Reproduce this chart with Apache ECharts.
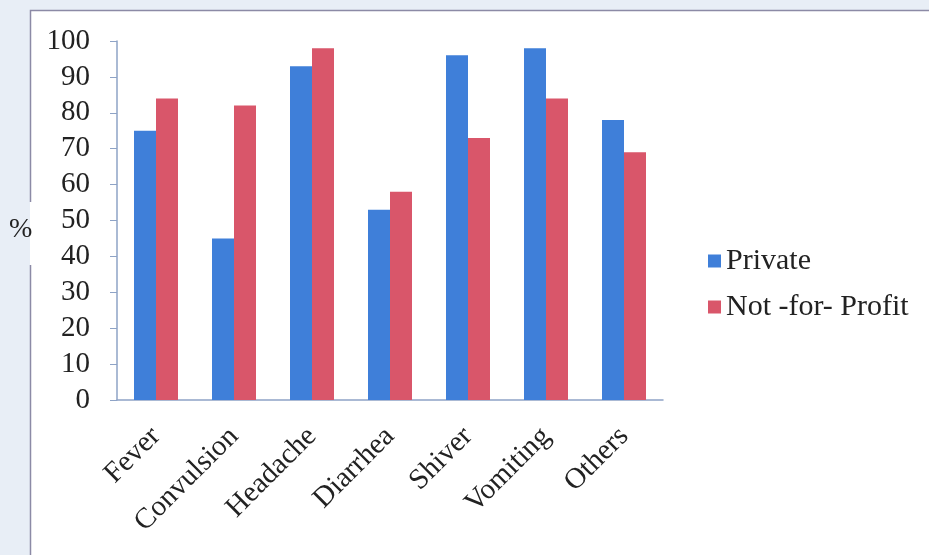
<!DOCTYPE html>
<html>
<head>
<meta charset="utf-8">
<script src="https://cdn.jsdelivr.net/npm/echarts@6/dist/echarts.min.js"></script>
<style>
html,body{margin:0;padding:0;background:#e8eef6;}
#c{width:929px;height:555px;}
</style>
</head>
<body>
<div id="c"></div>
<script>
const categories = ['Fever','Convulsion','Headache','Diarrhea','Shiver','Vomiting','Others'];
const privateValues = [75, 45, 93, 53, 96, 98, 78];
const notForProfitValues = [84, 82, 98, 58, 73, 84, 69];
const yTicks = [0,10,20,30,40,50,60,70,80,90,100];

const chart = echarts.init(document.getElementById('c'), null, {renderer:'canvas'});
const font = 'Liberation Serif, Times New Roman, serif';
const axisColor = '#8ea3c6';
chart.setOption({
  backgroundColor: 'transparent',
  animation: false,
  graphic: [
    {type:'rect', z:-10, shape:{x:30,y:10,width:910,height:560}, style:{fill:'#ffffff'}},
    {type:'polyline', z:-5, shape:{points:[[30.5,202],[30.5,10.5],[929,10.5]]}, style:{stroke:'#8c8aa6', lineWidth:1.5, fill:null}},
    {type:'line', z:-5, shape:{x1:30.5,y1:265,x2:30.5,y2:555}, style:{stroke:'#8c8aa6', lineWidth:1.5}},
    {type:'text', left:9, top:216, style:{text:'%', fontFamily:font, fontSize:28, fill:'#222'}}
  ],
  grid: {left:117, right:266, top:41, bottom:155, containLabel:false},
  legend: {
    orient:'vertical', left:703, top:241, itemGap:16, itemWidth:13, itemHeight:13,
    icon:'rect',
    textStyle:{fontFamily:font, fontSize:30, color:'#222'},
    data:['Private','Not -for- Profit']
  },
  xAxis: {
    type:'category', data:categories,
    axisLine:{lineStyle:{color:axisColor, width:1.5}},
    axisTick:{lineStyle:{color:axisColor}, length:6},
    axisLabel:{rotate:45, margin:32, fontFamily:font, fontSize:29, color:'#222'}
  },
  yAxis: {
    type:'value', min:0, max:100, interval:10,
    axisLine:{show:true, lineStyle:{color:axisColor, width:1.5}},
    axisTick:{show:true, lineStyle:{color:axisColor}, length:7},
    splitLine:{show:false},
    axisLabel:{fontFamily:font, fontSize:29, color:'#222', margin:27,
      formatter: v => yTicks.includes(v) ? String(v) : ''}
  },
  series: [
    {name:'Private', type:'bar', data:privateValues, barWidth:22, barGap:'0%', itemStyle:{color:'#3f7fd9'}},
    {name:'Not -for- Profit', type:'bar', data:notForProfitValues, barWidth:22, barGap:'0%', itemStyle:{color:'#d9566a'}}
  ]
});
</script>
</body>
</html>
